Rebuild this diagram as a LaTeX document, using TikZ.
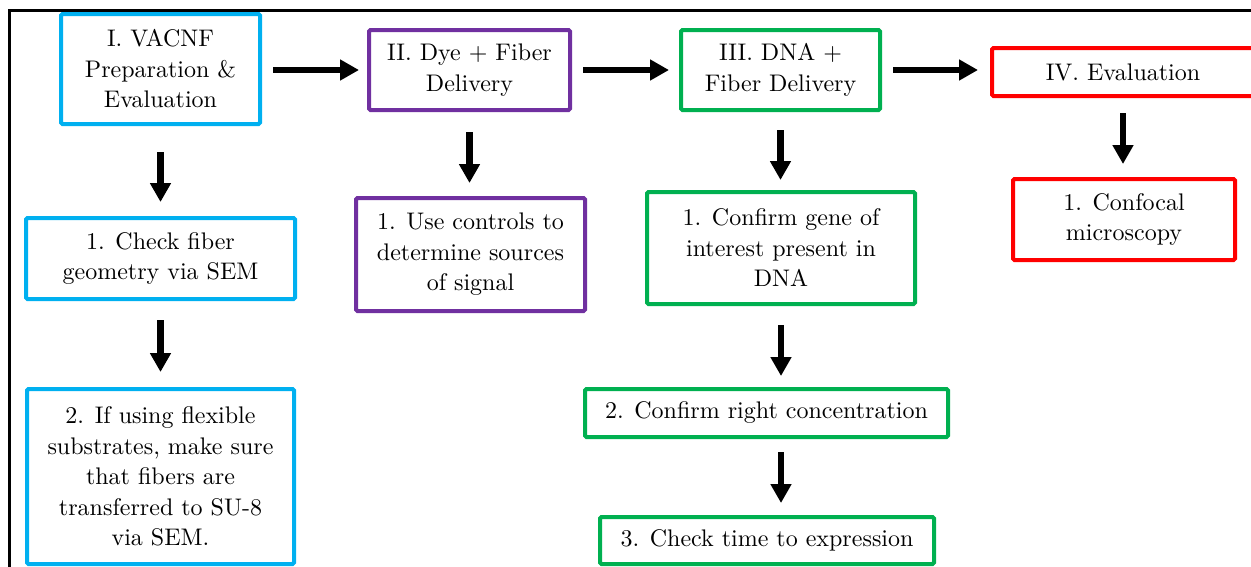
\documentclass[tikz,border=0pt]{standalone}
\usepackage{fontspec}
\setmainfont{lmroman10-regular.otf}
\usetikzlibrary{arrows.meta}
\definecolor{cI}{HTML}{00B0F0}
\definecolor{cII}{HTML}{7030A0}
\definecolor{cIII}{HTML}{00B050}
\definecolor{cIV}{HTML}{FF0000}
\begin{document}
\begin{tikzpicture}[x=1pt,y=-1pt,
  box/.style={draw, line width=4pt, rounded corners=1.5pt, align=center, inner sep=0pt,
    font=\rmfamily\fontsize{24}{30.5}\selectfont, text=black},
  arr/.style={line width=6.5pt, -{Triangle[length=19pt,width=20pt]}},
  sz/.style 2 args={minimum width=#1pt, minimum height=#2pt}]
\useasboundingbox (0,0) rectangle (1251,566);
\clip (0,0) rectangle (1251,566);
\fill[white] (0,0) rectangle (1251,566);
\draw[line width=2.5pt] (9.5,570) -- (9.5,10.5) -- (1255,10.5);

\node[box, draw=cI, sz={199}{110}] (I) at (160.5,69) {I. VACNF\\Preparation \&\\Evaluation};
\node[box, draw=cII, sz={201}{80}] (II) at (469.5,70) {II. Dye + Fiber\\Delivery};
\node[box, draw=cIII, sz={199}{80}] (III) at (780.5,70) {III. DNA +\\Fiber Delivery};
\node[box, draw=cIV, sz={262}{48}] (IV) at (1123,72) {IV. Evaluation};
\node[box, draw=cI, sz={269}{81}] (A1) at (160.5,258.5) {1. Check fiber\\geometry via SEM};
\node[box, draw=cI, sz={267}{175}] (A2) at (160.5,476.5) {2. If using flexible\\substrates, make sure\\that fibers are\\transferred to SU-8\\via SEM.};
\node[box, draw=cII, sz={229}{113}] (B1) at (470.5,254.5) {1. Use controls to\\determine sources\\of signal};
\node[box, draw=cIII, sz={268}{112}] (C1) at (781,248) {1. Confirm gene of\\interest present in\\DNA};
\node[box, draw=cIII, sz={363}{48}] (C2) at (766.5,413) {2. Confirm right concentration};
\node[box, draw=cIII, sz={334}{47}] (C3) at (767,540.5) {3. Check time to expression};
\node[box, draw=cIV, sz={222}{81}] (D1) at (1124,219.5) {1. Confocal\\microscopy};

\draw[arr, shorten <=11pt, shorten >=8pt] (I.east |- II.west) -- (II.west);
\draw[arr, shorten <=11pt, shorten >=10pt] (II.east) -- (III.west);
\draw[arr, shorten <=11pt, shorten >=12pt] (III.east) -- (III.east -| IV.west);
\draw[arr, shorten <=26pt, shorten >=14pt] (I.south) -- (I.south |- A1.north);
\draw[arr, shorten <=19pt, shorten >=15pt] (A1.south) -- (A1.south |- A2.north);
\draw[arr, shorten <=20pt, shorten >=13pt] (II.south) -- (II.south |- B1.north);
\draw[arr, shorten <=18pt, shorten >=10pt] (III.south) -- (III.south |- C1.north);
\draw[arr, shorten <=19pt, shorten >=11pt] (C1.south) -- (C1.south |- C2.north);
\draw[arr, shorten <=13pt, shorten >=12pt] (C1.south |- C2.south) -- (C1.south |- C3.north);
\draw[arr, shorten <=15pt, shorten >=13pt] (IV.south) -- (IV.south |- D1.north);
\end{tikzpicture}
\end{document}
